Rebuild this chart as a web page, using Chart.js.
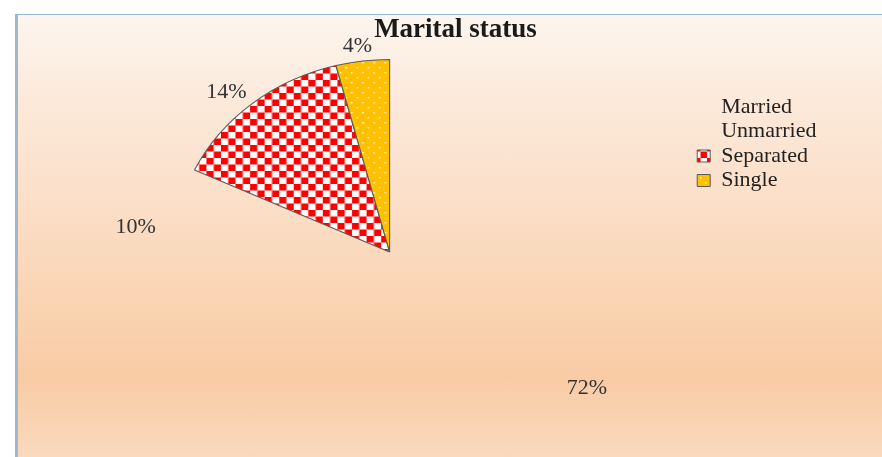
<!DOCTYPE html>
<html>
<head>
<meta charset="utf-8">
<script src="https://cdn.jsdelivr.net/npm/chart.js@4"></script>
<style>
  body { margin: 0; background: #fff; }
  #frame {
    position: absolute; left: 15px; top: 14px;
    width: 867px; height: 443px; box-sizing: border-box;
    border-top: 1px solid #93b8dc;
    border-left: 3px solid #a4b7c8;
    background: linear-gradient(to bottom, #fdf5ee 0%, #fce9da 20%, #fbdfc8 42%, #fad4b3 65%, #f9cba5 82%, #fad9bd 100%);
  }
</style>
</head>
<body>
<div id="frame"><canvas id="chart" width="864" height="442"></canvas></div>
<script>
const labels = ["Married", "Unmarried", "Separated", "Single"];
const percents = [72, 10, 14, 4];

// fill patterns like the office chart
function checkerPattern() {
  const c = document.createElement("canvas");
  c.width = 13; c.height = 13;
  const g = c.getContext("2d");
  g.fillStyle = "#ffffff"; g.fillRect(0, 0, 13, 13);
  g.fillStyle = "#ff0000";
  g.fillRect(0, 0, 6.5, 6.5);
  g.fillRect(6.5, 6.5, 6.5, 6.5);
  return g.createPattern(c, "repeat");
}
function dotPattern() {
  const c = document.createElement("canvas");
  c.width = 10; c.height = 10;
  const g = c.getContext("2d");
  g.fillStyle = "#ffc000"; g.fillRect(0, 0, 10, 10);
  g.fillStyle = "#fff6d8";
  g.fillRect(2, 2, 1.5, 1.5);
  g.fillRect(7, 7, 1.5, 1.5);
  return g.createPattern(c, "repeat");
}

const STRETCH_X = 1.12;

// the original pie is slightly wider than tall
const stretchPlugin = {
  id: "stretch",
  beforeDatasetsDraw(chart) {
    const arc = chart.getDatasetMeta(0).data[0];
    const ctx = chart.ctx;
    ctx.save();
    ctx.translate(arc.x, arc.y);
    ctx.scale(STRETCH_X, 1);
    ctx.translate(-arc.x, -arc.y);
  },
  afterDatasetsDraw(chart) {
    chart.ctx.restore();
  }
};

const pctLabels = {
  id: "pctLabels",
  afterDraw(chart) {
    const ctx = chart.ctx;
    ctx.save();
    ctx.font = "22px 'Liberation Serif'";
    ctx.fillStyle = "#333333";
    ctx.textAlign = "center";
    ctx.textBaseline = "middle";
    chart.getDatasetMeta(0).data.forEach((arc, i) => {
      const mid = (arc.startAngle + arc.endAngle) / 2;
      const x = arc.x + Math.cos(mid) * arc.outerRadius * 1.33;
      const y = arc.y + Math.sin(mid) * arc.outerRadius * 1.09 + 2;
      ctx.fillText(percents[i] + "%", x, y);
    });
    ctx.restore();
  }
};

const ctx = document.getElementById("chart").getContext("2d");
new Chart(ctx, {
  type: "pie",
  data: {
    labels: labels,
    datasets: [{
      data: percents,
      backgroundColor: ["rgba(0,0,0,0)", "rgba(0,0,0,0)", checkerPattern(), dotPattern()],
      borderColor: ["rgba(0,0,0,0)", "rgba(0,0,0,0)", "#5a5a5a", "#5a5a5a"],
      borderWidth: [0, 0, 1, 1]
    }]
  },
  options: {
    responsive: false,
    animation: false,
    layout: { padding: { left: 66.5, right: 55.5, top: 0, bottom: 12 } },
    plugins: {
      title: {
        display: true,
        text: "Marital status",
        color: "#1a1a1a",
        font: { family: "'Liberation Serif'", size: 27, weight: "bold", lineHeight: 1 },
        padding: { top: 2, bottom: 15 }
      },
      legend: {
        position: "right",
        align: "start",
        title: { display: true, text: "", font: { size: 10, lineHeight: 1 }, padding: { top: 68.5, bottom: 0 } },
        labels: {
          color: "#222222",
          font: { family: "'Liberation Serif'", size: 22 },
          boxWidth: 13,
          boxHeight: 12,
          padding: 2.5
        }
      },
      tooltip: { enabled: false }
    }
  },
  plugins: [stretchPlugin, pctLabels]
});
</script>
</body>
</html>
